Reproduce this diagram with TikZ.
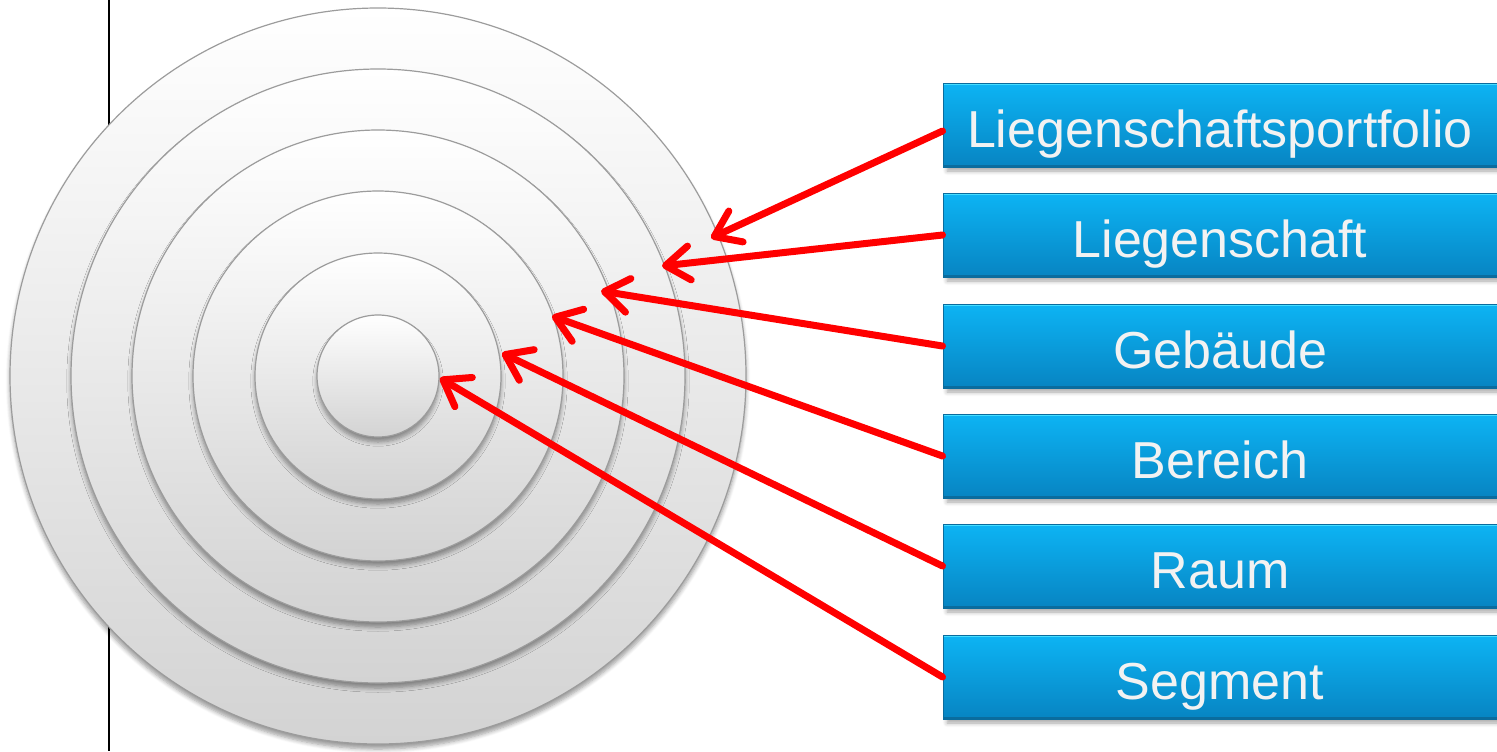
\documentclass[tikz,border=0pt]{standalone}
\usepackage{fontspec}
\setmainfont{Liberation Sans}
\usetikzlibrary{arrows.meta,shadows.blur}
\definecolor{boxtop}{HTML}{0DB4F4}
\definecolor{boxbot}{HTML}{0784C2}
\definecolor{boxedge}{HTML}{0A6C9E}
\definecolor{boxlight}{HTML}{45DDFF}
\definecolor{ringedge}{HTML}{9C9C9C}
\definecolor{ringbot}{HTML}{D3D3D3}
\definecolor{arrowred}{HTML}{FF0000}
\tikzset{
  ring/.style={circle, inner sep=0pt, draw=ringedge, line width=0.6pt,
    top color=white, bottom color=ringbot,
    blur shadow={shadow xshift=0pt, shadow yshift=-2.5pt,
                 shadow opacity=40, shadow blur steps=6}},
  levelbox/.style={rectangle, inner sep=0pt, minimum width=277pt, minimum height=42pt,
    text height=22pt, text depth=0pt,
    top color=boxtop, bottom color=boxbot, draw=boxedge, line width=0.5pt,
    text=white!95!black, font=\fontsize{26}{30}\selectfont,
    path picture={
      \draw[boxlight, line width=1.6pt]
        (path picture bounding box.north west) -- (path picture bounding box.north east);
      \draw[boxedge, line width=1.6pt]
        (path picture bounding box.south west) -- (path picture bounding box.south east);
    },
    blur shadow={shadow xshift=2pt, shadow yshift=-2pt,
                 shadow opacity=35, shadow blur steps=5}},
  pointer/.style={draw=arrowred, line width=3.5pt, line cap=round,
    -{Straight Barb[length=12pt,width=17pt,round]}}
}
\begin{document}
\begin{tikzpicture}[x=0.5pt,y=-0.5pt]
  \useasboundingbox (0,0) rectangle (1497,751);

  % thin vertical rule behind the target
  \draw[line width=1pt] (109,0) -- (109,751);

  % concentric rings, outermost first
  \node[ring, minimum size=368pt] (r1) at (378,376) {};
  \node[ring, minimum size=307pt] (r2) at (378,376) {};
  \node[ring, minimum size=246pt] (r3) at (378,376) {};
  \node[ring, minimum size=185pt] (r4) at (378,376) {};
  \node[ring, minimum size=123pt] (r5) at (378,376) {};
  \node[ring, minimum size=61pt]  (r6) at (378,376) {};

  % level labels
  \node[levelbox] (b1) at (1220,125) {Liegenschaftsportfolio};
  \node[levelbox] (b2) at (1220,235) {Liegenschaft};
  \node[levelbox] (b3) at (1220,346) {Gebäude};
  \node[levelbox] (b4) at (1220,456) {Bereich};
  \node[levelbox] (b5) at (1220,566) {Raum};
  \node[levelbox] (b6) at (1220,677) {Segment};

  % points on the rings the labels refer to
  \coordinate (t1) at (711,238);
  \coordinate (t2) at (662,266);
  \coordinate (t3) at (601,291);
  \coordinate (t4) at (552,316);
  \coordinate (t5) at (502,353);
  \coordinate (t6) at (440,378);

  \draw[pointer] ([yshift=-3pt]b1.west) -- (t1);
  \draw[pointer] (b2.west) -- (t2);
  \draw[pointer] (b3.west) -- (t3);
  \draw[pointer] (b4.west) -- (t4);
  \draw[pointer] (b5.west) -- (t5);
  \draw[pointer] (b6.west) -- (t6);
\end{tikzpicture}
\end{document}
